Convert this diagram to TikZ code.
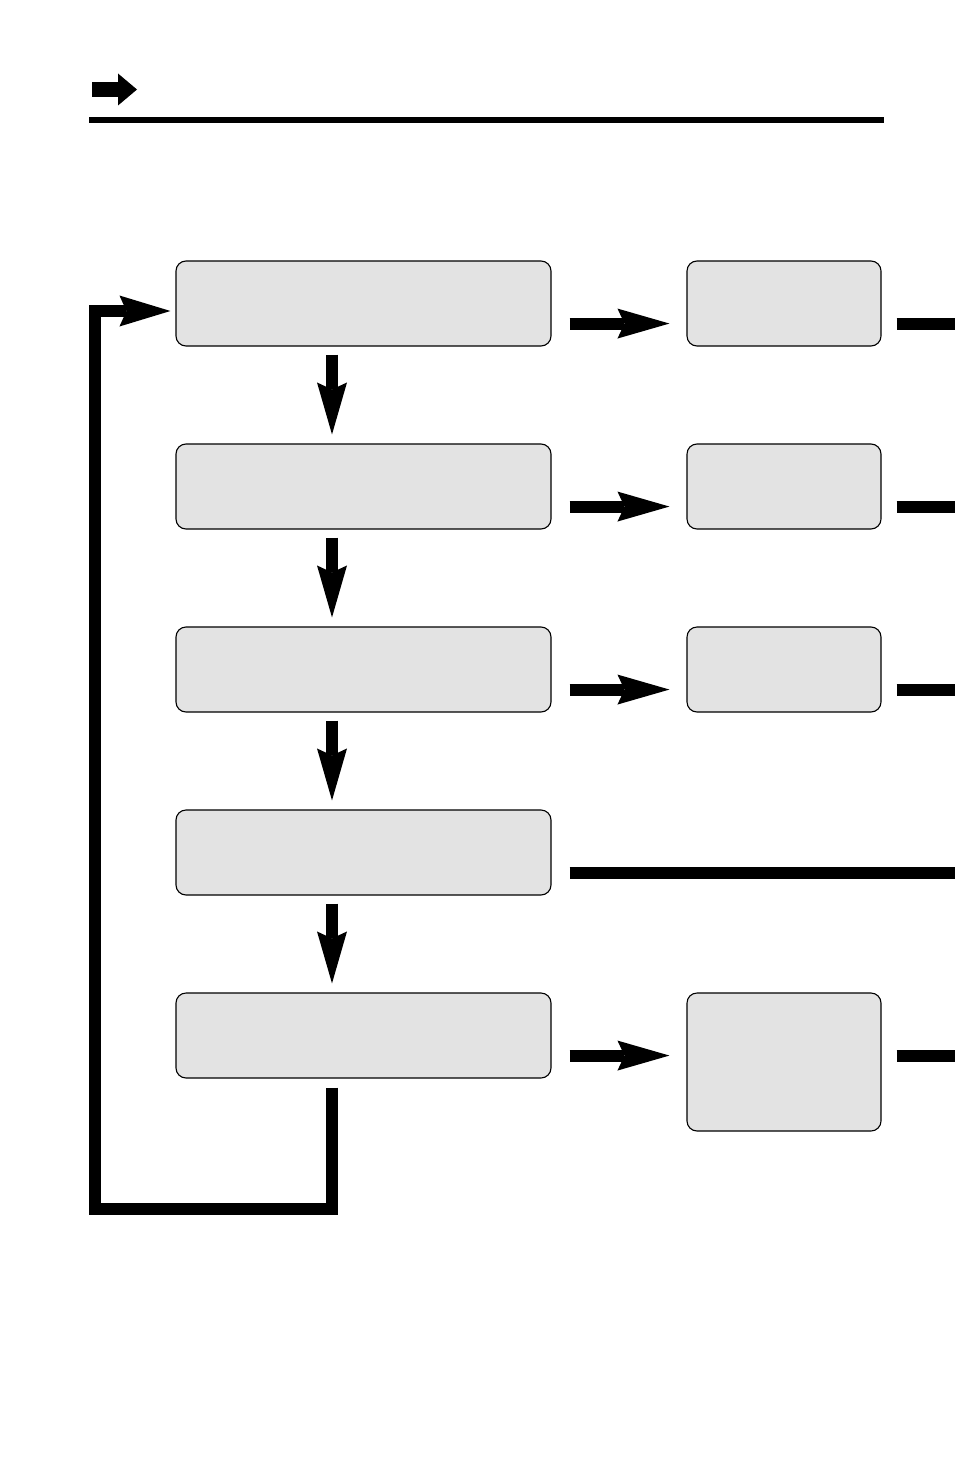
\documentclass[tikz,border=0pt]{standalone}
\usetikzlibrary{arrows.meta,calc}
\definecolor{boxgray}{RGB}{227,227,227}
\tikzset{
  mainbox/.style={draw=black,line width=1.1pt,fill=boxgray,rounded corners=10pt,minimum width=375pt,minimum height=85pt,inner sep=0pt,anchor=center},
  sidebox/.style={draw=black,line width=1.1pt,fill=boxgray,rounded corners=10pt,minimum width=194pt,minimum height=85pt,inner sep=0pt,anchor=center},
  conn/.style={line width=12pt,-{Stealth[length=52pt,width=30pt,inset=7pt,line width=0pt]}},
  bar/.style={line width=12pt,line cap=butt},
  loopconn/.style={line width=12pt,line join=miter,-{Stealth[length=51pt,width=31pt,inset=7pt,line width=0pt]}}
}
\begin{document}
\begin{tikzpicture}[x=1pt,y=-1pt]
\useasboundingbox (0,0) rectangle (954,1474);
\fill[white] (0,0) rectangle (954,1474);
% header
\draw[line width=15pt,-{Triangle[length=19pt,width=32pt,line width=0pt]}] (92,89.5) -- (137,89.5);
\draw[line width=6.5pt] (89,120) -- (884,120);
% main boxes
\node[mainbox] (b1) at (363.5,303.5) {};
\node[mainbox] (b2) at (363.5,486.5) {};
\node[mainbox] (b3) at (363.5,669.5) {};
\node[mainbox] (b4) at (363.5,852.5) {};
\node[mainbox] (b5) at (363.5,1035.5) {};
% side boxes
\node[sidebox] (r1) at (784,303.5) {};
\node[sidebox] (r2) at (784,486.5) {};
\node[sidebox] (r3) at (784,669.5) {};
\node[sidebox,minimum height=138pt] (r5) at (784,1062) {};
% down arrows
\foreach \a/\b in {b1/b2,b2/b3,b3/b4,b4/b5}{
  \draw[conn] ($(\a.south)+(-31.5,8)$) -- ($(\b.north)+(-31.5,-9)$);
}
% right arrows and stubs
\foreach \a/\b in {b1/r1,b2/r2,b3/r3}{
  \draw[conn] ($(\a.south east)+(18,-23)$) -- ($(\b.south west)+(-17,-23)$);
  \draw[bar] ($(\b.south east)+(15,-23)$) -- ($(\b.south east)+(73,-23)$);
}
\coordinate (a5s) at ($(b5.south east)+(18,-23)$);
\draw[conn] (a5s) -- ($(a5s -| r5.west)+(-17,0)$);
\draw[bar] ($(a5s -| r5.east)+(15,0)$) -- ($(a5s -| r5.east)+(73,0)$);
% row 4 line
\coordinate (l4s) at ($(b4.south east)+(18,-23)$);
\coordinate (l4e) at ($(l4s)+(385,0)$);
\draw[bar] (l4s) -- (l4e);
% loop back
\coordinate (l0) at ($(b5.south)+(-31.5,9)$);
\coordinate (l1) at (95,1209);
\coordinate (l2) at ($(b1.west)+(-5,7.5)$);
\draw[loopconn] (l0) |- (l1) |- (l2);
\end{tikzpicture}
\end{document}
